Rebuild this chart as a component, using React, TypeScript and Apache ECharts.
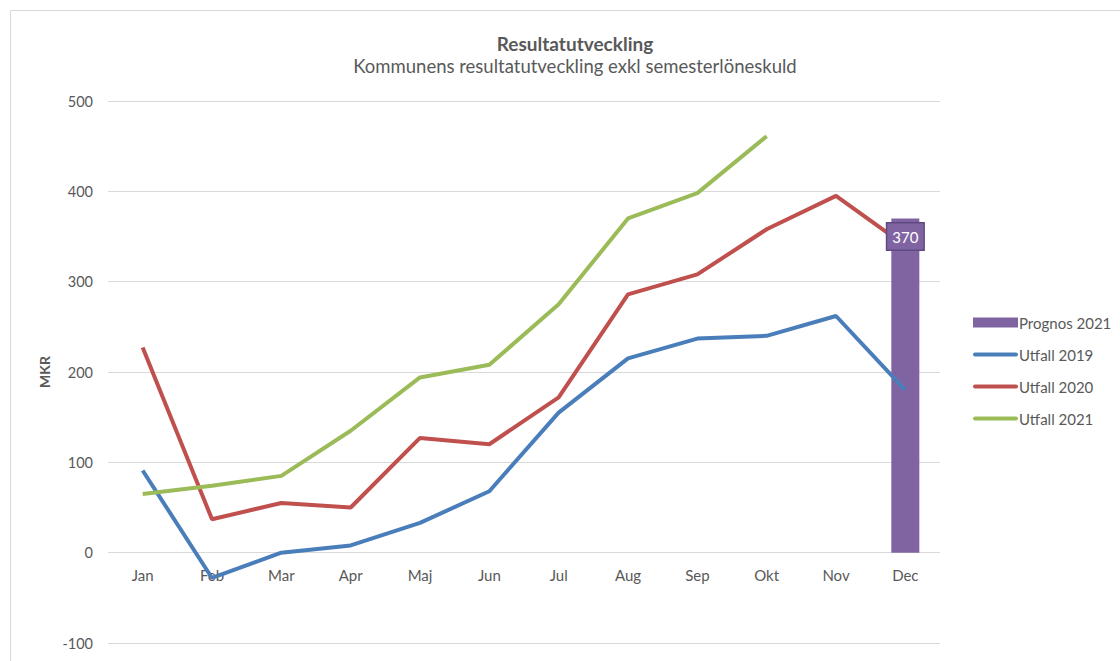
import React, { useEffect, useRef } from "react";
import * as echarts from "echarts";

const months = ["Jan", "Feb", "Mar", "Apr", "Maj", "Jun", "Jul", "Aug", "Sep", "Okt", "Nov", "Dec"];
const prognos2021 = [null, null, null, null, null, null, null, null, null, null, null, 370];
const utfall2019 = [91, -28, 0, 8, 33, 68, 155, 215, 237, 240, 262, 180];
const utfall2020 = [227, 37, 55, 50, 127, 120, 172, 286, 308, 358, 395, 340];
const utfall2021 = [65, 74, 85, 135, 194, 208, 275, 370, 398, 461, null, null];

const FONT = "Lato, 'Open Sans', sans-serif";
const TXT = "#595959";
const LINE_ICON = "path://M2,0 L43,0 A2,2 0 0 1 43,4 L2,4 A2,2 0 0 1 2,0 Z";

export default function App() {
  const ref = useRef<HTMLDivElement>(null);
  useEffect(() => {
    const chart = echarts.init(ref.current!, null, { renderer: "svg" });
    chart.setOption({
      animation: false,
      backgroundColor: "#ffffff",
      textStyle: { fontFamily: FONT },
      title: {
        text: "Resultatutveckling",
        subtext: "Kommunens resultatutveckling exkl semesterlöneskuld",
        left: 570,
        textAlign: "center",
        top: 29,
        itemGap: 3,
        textStyle: { fontFamily: FONT, fontSize: 19, fontWeight: "bold", color: TXT },
        subtextStyle: { fontFamily: FONT, fontSize: 18.5, color: TXT },
      },
      graphic: [
        {
          type: "rect",
          shape: { x: 10.5, y: 10.5, width: 1130, height: 670 },
          style: { fill: "none", stroke: "#d9d9d9", lineWidth: 1 },
          silent: true,
        },
      ],
      legend: {
        orient: "vertical",
        left: 968,
        top: 310,
        itemWidth: 45,
        itemHeight: 10,
        itemGap: 17,
        textStyle: { fontFamily: FONT, fontSize: 15, color: TXT, padding: [0, 0, 0, -4] },
        data: [
          { name: "Prognos 2021", icon: "rect" },
          { name: "Utfall 2019", icon: LINE_ICON },
          { name: "Utfall 2020", icon: LINE_ICON },
          { name: "Utfall 2021", icon: LINE_ICON },
        ],
      },
      grid: { left: 108, right: 180, top: 101, bottom: 18 },
      xAxis: {
        type: "category",
        data: months,
        boundaryGap: true,
        offset: -90,
        axisLine: { show: false },
        axisTick: { show: false },
        axisLabel: { color: TXT, fontSize: 15, margin: 14, fontFamily: FONT },
      },
      yAxis: {
        type: "value",
        min: -100,
        max: 500,
        interval: 100,
        name: "MKR",
        nameLocation: "middle",
        nameRotate: 90,
        nameGap: 56,
        nameTextStyle: { color: TXT, fontSize: 14, fontWeight: "bold", fontFamily: FONT },
        axisLine: { show: false },
        axisTick: { show: false },
        axisLabel: { color: TXT, fontSize: 14.5, margin: 15, fontFamily: FONT },
        splitLine: { lineStyle: { color: "#d9d9d9", width: 1 } },
      },
      series: [
        {
          name: "Prognos 2021",
          type: "bar",
          data: prognos2021,
          barWidth: 28,
          itemStyle: { color: "#8064A2" },
          z: 1,
        },
        {
          name: "Utfall 2019",
          type: "line",
          data: utfall2019,
          symbol: "none",
          lineStyle: { color: "#4A7EBB", width: 4 },
          itemStyle: { color: "#4A7EBB" },
          z: 3,
        },
        {
          name: "Utfall 2020",
          type: "line",
          data: utfall2020,
          symbol: "none",
          lineStyle: { color: "#C0504D", width: 4 },
          itemStyle: { color: "#C0504D" },
          z: 2,
        },
        {
          name: "Utfall 2021",
          type: "line",
          data: utfall2021,
          symbol: "none",
          lineStyle: { color: "#9BBB59", width: 4 },
          itemStyle: { color: "#9BBB59" },
          z: 3,
        },
        {
          name: "Prognos 2021 etikett",
          type: "scatter",
          data: prognos2021,
          symbolSize: 0,
          z: 10,
          silent: true,
          itemStyle: { opacity: 1, color: "#8064A2" },
          label: {
            show: true,
            position: "bottom",
            distance: 5,
            color: "#ffffff",
            opacity: 1,
            fontSize: 15,
            fontFamily: FONT,
            backgroundColor: "#8064A2",
            borderColor: "#5E4A80",
            borderWidth: 1.5,
            padding: [6, 5, 5, 5],
            formatter: (p: any) => String(p.value),
          },
        },
      ],
    });
    return () => chart.dispose();
  }, []);
  return (
    <div
      ref={ref}
      style={{ position: "fixed", left: 0, top: 0, width: 1120, height: 661 }}
    />
  );
}
